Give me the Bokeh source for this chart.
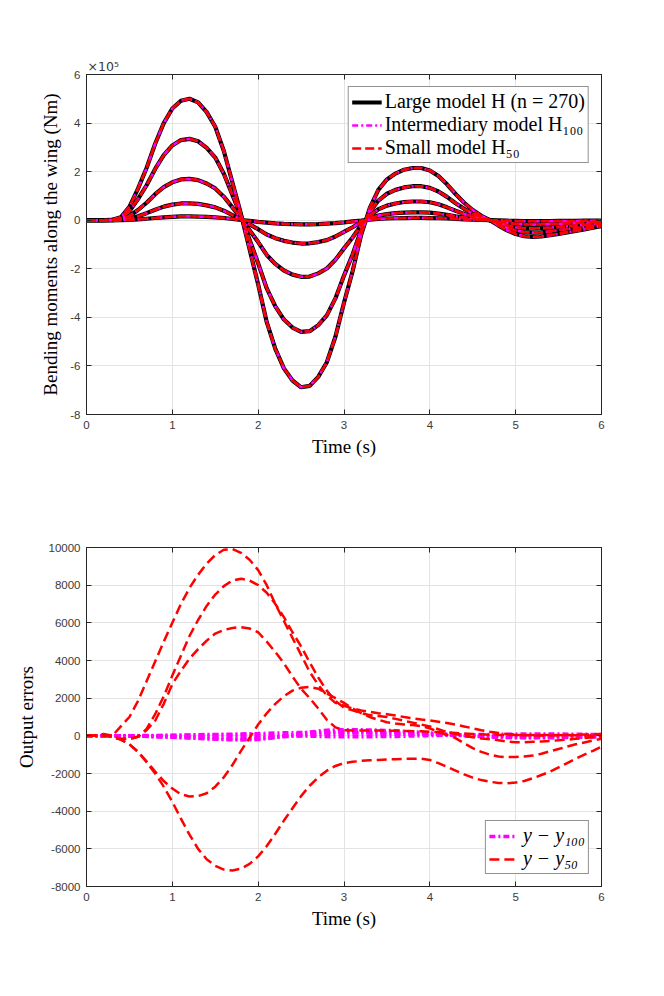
import numpy as np
from bokeh.plotting import figure
from bokeh.models import Legend, LegendItem, LinearAxis, FixedTicker, Range1d
from bokeh.layouts import column
from bokeh.embed import file_html
from bokeh.resources import INLINE

# ---------------- data ----------------
t = np.round(np.arange(61) * 0.1, 1).tolist()

# bending moments (units of 1e5 Nm), five outputs along the wing
moment_1 = [0, 0, 0, 0.02, 0.12, 0.55, 1.3, 2.15, 3.15, 4.0,
            4.6, 4.92, 5.0, 4.85, 4.45, 3.85, 2.85, 1.55, 0.25, -1.2,
            -2.65, -4.2, -5.3, -6.1, -6.6, -6.88, -6.82, -6.45, -5.85, -4.8,
            -3.4, -2.1, -0.6, 0.5, 1.25, 1.68, 1.92, 2.08, 2.15, 2.15,
            2.05, 1.82, 1.48, 1.08, 0.72, 0.42, 0.18, 0.0, -0.22, -0.42,
            -0.57, -0.66, -0.69, -0.67, -0.62, -0.56, -0.5, -0.44, -0.38, -0.31, -0.25]
moment_2 = [0, 0, 0, 0.01, 0.08, 0.37, 0.87, 1.44, 2.11, 2.68,
            3.08, 3.3, 3.35, 3.25, 2.98, 2.58, 1.91, 1.04, 0.17, -0.8,
            -1.78, -2.81, -3.55, -4.09, -4.42, -4.6, -4.57, -4.32, -3.92, -3.22,
            -2.28, -1.41, -0.4, 0.33, 0.81, 1.09, 1.25, 1.35, 1.4, 1.4,
            1.33, 1.18, 0.96, 0.7, 0.47, 0.27, 0.12, 0.0, -0.16, -0.31,
            -0.42, -0.49, -0.51, -0.5, -0.46, -0.41, -0.37, -0.33, -0.28, -0.23, -0.19]
moment_3 = [0, 0, 0, 0.0, 0.03, 0.17, 0.42, 0.72, 1.07, 1.36,
            1.56, 1.68, 1.7, 1.65, 1.51, 1.31, 0.97, 0.53, 0.08, -0.41,
            -0.9, -1.43, -1.8, -2.07, -2.24, -2.33, -2.32, -2.19, -1.99, -1.63,
            -1.16, -0.71, -0.2, 0.18, 0.45, 0.6, 0.69, 0.75, 0.77, 0.77,
            0.74, 0.66, 0.53, 0.39, 0.26, 0.15, 0.06, 0.0, -0.11, -0.21,
            -0.29, -0.33, -0.34, -0.33, -0.31, -0.28, -0.25, -0.22, -0.19, -0.16, -0.12]
moment_4 = [0, 0, 0, 0.0, 0.01, 0.06, 0.16, 0.29, 0.43, 0.56,
            0.64, 0.69, 0.69, 0.67, 0.61, 0.53, 0.39, 0.21, 0.03, -0.17,
            -0.37, -0.59, -0.74, -0.85, -0.92, -0.96, -0.95, -0.9, -0.82, -0.67,
            -0.48, -0.29, -0.08, 0.08, 0.19, 0.25, 0.29, 0.31, 0.32, 0.32,
            0.31, 0.27, 0.22, 0.16, 0.11, 0.06, 0.03, 0.0, -0.06, -0.11,
            -0.15, -0.17, -0.18, -0.17, -0.16, -0.15, -0.13, -0.11, -0.1, -0.08, -0.06]
moment_5 = [0, 0, 0, 0, 0, 0.01, 0.03, 0.06, 0.09, 0.12,
            0.14, 0.16, 0.16, 0.15, 0.14, 0.12, 0.09, 0.05, 0.01, -0.03,
            -0.07, -0.1, -0.13, -0.15, -0.16, -0.17, -0.17, -0.16, -0.14, -0.12,
            -0.09, -0.05, -0.02, 0.02, 0.05, 0.07, 0.08, 0.09, 0.1, 0.1,
            0.09, 0.08, 0.07, 0.05, 0.03, 0.02, 0.01, 0, -0.01, -0.02,
            -0.03, -0.04, -0.04, -0.04, -0.04, -0.03, -0.03, -0.03, -0.02, -0.02, -0.02]
moments = [moment_1, moment_2, moment_3, moment_4, moment_5]

# output errors y - y50 (thousands)
err50_1 = [0, 0, 0.1, 0.0, 0.5, 1.0, 1.85, 2.9, 3.95, 5.0,
           6.0, 7.0, 7.85, 8.55, 9.15, 9.6, 9.88, 9.92, 9.72, 9.35,
           8.8, 8.0, 7.0, 6.1, 5.2, 4.3, 3.4, 2.7, 2.15, 1.75,
           1.6, 1.45, 1.35, 1.28, 1.2, 1.15, 1.08, 1.0, 0.93, 0.87,
           0.82, 0.75, 0.68, 0.6, 0.5, 0.4, 0.3, 0.22, 0.15, 0.1,
           0.06, 0.03, 0.02, 0.02, 0.02, 0.03, 0.04, 0.05, 0.07, 0.08, 0.1]
err50_2 = [0, 0, 0.02, -0.05, -0.15, -0.15, -0.05, 0.37, 1.15, 2.1,
           3.2, 4.25, 5.3, 6.15, 6.9, 7.5, 7.95, 8.25, 8.34, 8.25,
           8.0, 7.6, 7.0, 6.3, 5.5, 4.75, 3.9, 3.1, 2.4, 1.85,
           1.5, 1.35, 1.2, 1.1, 1.05, 1.0, 0.9, 0.8, 0.7, 0.6,
           0.5, 0.35, 0.2, 0.1, 0.0, -0.08, -0.14, -0.18, -0.24, -0.3,
           -0.34, -0.34, -0.32, -0.3, -0.27, -0.24, -0.2, -0.16, -0.12, -0.07, -0.03]
err50_3 = [0, 0, 0.02, -0.05, -0.15, -0.18, -0.05, 0.3, 0.8, 1.7,
           2.75, 3.45, 4.1, 4.6, 5.05, 5.43, 5.62, 5.73, 5.77, 5.7,
           5.5, 5.0, 4.45, 3.85, 3.15, 2.5, 2.0, 1.45, 0.85, 0.45,
           0.3, 0.28, 0.28, 0.28, 0.28, 0.27, 0.27, 0.26, 0.25, 0.24,
           0.22, 0.2, 0.18, 0.15, 0.12, 0.1, 0.08, 0.06, 0.05, 0.05,
           0.05, 0.05, 0.05, 0.05, 0.04, 0.04, 0.03, 0.03, 0.02, 0.01, 0.0]
err50_4 = [0, 0, 0.05, -0.05, -0.2, -0.45, -0.85, -1.35, -1.9, -2.4,
           -2.8, -3.1, -3.22, -3.2, -3.05, -2.7, -2.2, -1.55, -0.8, -0.1,
           0.6, 1.2, 1.7, 2.1, 2.4, 2.55, 2.6, 2.5, 2.25, 2.0,
           1.75, 1.45, 1.2, 1.0, 0.85, 0.72, 0.65, 0.6, 0.57, 0.52,
           0.4, 0.2, 0.05, -0.12, -0.4, -0.65, -0.85, -1.0, -1.1, -1.13,
           -1.12, -1.1, -1.05, -0.95, -0.82, -0.7, -0.57, -0.45, -0.35, -0.25, -0.16]
err50_5 = [0, 0, 0.05, -0.05, -0.2, -0.45, -0.85, -1.4, -2.0, -2.7,
           -3.5, -4.4, -5.25, -6.0, -6.55, -6.9, -7.1, -7.15, -7.05, -6.8,
           -6.4, -5.85, -5.2, -4.5, -3.85, -3.2, -2.65, -2.2, -1.85, -1.6,
           -1.45, -1.38, -1.33, -1.3, -1.28, -1.26, -1.24, -1.22, -1.22, -1.22,
           -1.28, -1.45, -1.65, -1.85, -2.05, -2.22, -2.35, -2.44, -2.5, -2.52,
           -2.48, -2.4, -2.25, -2.08, -1.9, -1.68, -1.45, -1.22, -1.0, -0.8, -0.57]
err50 = [err50_1, err50_2, err50_3, err50_4, err50_5]

# output errors y - y100 (thousands), sampled every 0.2 s
t_m = np.round(np.arange(31) * 0.2, 1).tolist()
err100_1 = [0, 0, 0, -0.02, -0.05, -0.08, -0.12, -0.16, -0.2, -0.22, -0.2, -0.1, 0.05, 0.2, 0.3, 0.33,
            0.32, 0.3, 0.27, 0.22, 0.15, 0.08, 0.02, -0.03, -0.06, -0.08, -0.08, -0.06, -0.03, 0.0, 0.02]
err100_2 = [0, 0, 0, -0.01, -0.04, -0.07, -0.1, -0.14, -0.17, -0.18, -0.15, -0.06, 0.05, 0.15, 0.22, 0.25,
            0.24, 0.22, 0.2, 0.16, 0.11, 0.06, 0.01, -0.04, -0.08, -0.1, -0.1, -0.08, -0.05, -0.02, 0.0]
err100_3 = [0, 0, 0, 0.01, 0.02, 0.03, 0.05, 0.07, 0.08, 0.1, 0.12, 0.15, 0.17, 0.18, 0.18, 0.17,
            0.15, 0.13, 0.11, 0.09, 0.07, 0.05, 0.03, 0.01, -0.01, -0.03, -0.04, -0.04, -0.03, -0.02, -0.01]
err100_4 = [0, 0, 0, 0.0, -0.02, -0.04, -0.06, -0.08, -0.1, -0.11, -0.1, -0.07, -0.02, 0.04, 0.1, 0.14,
            0.16, 0.17, 0.17, 0.15, 0.12, 0.08, 0.04, 0.0, -0.04, -0.07, -0.09, -0.1, -0.09, -0.07, -0.05]
err100_5 = [0, 0, 0, 0.0, 0.01, 0.02, 0.03, 0.04, 0.05, 0.05, 0.04, 0.02, 0.0, -0.02, -0.04, -0.05,
            -0.05, -0.04, -0.03, -0.01, 0.01, 0.03, 0.05, 0.07, 0.08, 0.09, 0.1, 0.1, 0.09, 0.08, 0.07]
err100 = [err100_1, err100_2, err100_3, err100_4, err100_5]

x_ticks = [0, 1, 2, 3, 4, 5, 6]
x_tick_labels = ["0", "1", "2", "3", "4", "5", "6"]
top_y_ticks = [-8, -6, -4, -2, 0, 2, 4, 6]
top_y_tick_labels = ["-8", "-6", "-4", "-2", "0", "2", "4", "6"]
bot_y_ticks = [-8, -6, -4, -2, 0, 2, 4, 6, 8, 10]
bot_y_tick_labels = ["-8000", "-6000", "-4000", "-2000", "0", "2000", "4000", "6000", "8000", "10000"]
top_scale_label = "\u00d710\u2075"

legend_top = ["Large model H (n = 270)", "Intermediary model H\u2081\u2080\u2080", "Small model H\u2085\u2080"]
legend_bot = ["y \u2212 y\u2081\u2080\u2080", "y \u2212 y\u2085\u2080"]

SERIF = "Liberation Serif"
SANS = "Liberation Sans"
AX = "#262626"
TICKC = "#3a3a3a"


def make_fig(yr, yt, ylabels, top_border, bottom_border, frame_h, ylabel, ylabel_standoff):
    p = figure(frame_width=515, frame_height=frame_h,
               min_border_left=86, min_border_right=40,
               min_border_top=top_border, min_border_bottom=bottom_border,
               x_range=Range1d(0, 6), y_range=Range1d(*yr),
               output_backend="svg", toolbar_location=None,
               background_fill_color="white", border_fill_color="white")
    p.outline_line_color = AX
    p.outline_line_width = 1
    for ax, ticks, labels in ((p.xaxis[0], x_ticks, x_tick_labels), (p.yaxis[0], yt, ylabels)):
        ax.ticker = FixedTicker(ticks=ticks)
        ax.major_label_overrides = dict(zip(ticks, labels))
        ax.major_label_text_font = SANS
        ax.major_label_text_font_size = "11.5px"
        ax.major_label_text_color = TICKC
        ax.major_tick_in = 5
        ax.major_tick_out = 0
        ax.minor_tick_line_color = None
        ax.axis_line_color = AX
        ax.major_tick_line_color = AX
        ax.axis_label_text_font = SERIF
        ax.axis_label_text_font_style = "normal"
        ax.axis_label_text_font_size = "19px"
        ax.axis_label_text_color = "black"
        ax.major_label_standoff = 6
    p.xaxis.axis_label = "Time (s)"
    p.xaxis.axis_label_standoff = 4
    p.yaxis.axis_label = ylabel
    p.yaxis.axis_label_standoff = ylabel_standoff
    for place, ticks in (("above", x_ticks), ("right", yt)):
        extra = LinearAxis(ticker=FixedTicker(ticks=ticks), major_label_text_font_size="1px",
                           major_label_text_color=None,
                           major_tick_in=5, major_tick_out=0, minor_tick_line_color=None,
                           axis_line_color=AX, major_tick_line_color=AX, major_label_standoff=0)
        p.add_layout(extra, place)
    p.xgrid.ticker = FixedTicker(ticks=x_ticks)
    p.ygrid.ticker = FixedTicker(ticks=yt)
    p.grid.grid_line_color = "#e3e3e3"
    p.grid.grid_line_width = 1
    return p


# ---------------- top figure ----------------
p1 = make_fig((-8, 6), top_y_ticks, top_y_tick_labels, 74, 50, 340,
              "Bending moments along the wing (Nm)", 6)
p1.title.text = top_scale_label
p1.title.align = "left"
p1.title.text_font = "DejaVu Sans"
p1.title.text_font_size = "12.5px"
p1.title.text_font_style = "normal"
p1.title.text_color = TICKC
p1.title.standoff = 1
p1.title.offset = 1

blk = [p1.line(t, m, line_color="black", line_width=4.2) for m in moments]
mag = [p1.line(t, m, line_color="#ff00ff", line_width=2.6, line_dash="6 3 2 3") for m in moments]
red = [p1.line(t, m, line_color="#ff0000", line_width=2.6, line_dash="9 4") for m in moments]
leg1 = Legend(items=[LegendItem(label=legend_top[0], renderers=[blk[0]]),
                     LegendItem(label=legend_top[1], renderers=[mag[0]]),
                     LegendItem(label=legend_top[2], renderers=[red[0]])],
              location="top_right", margin=12, padding=3, spacing=0,
              label_height=22, glyph_height=22, glyph_width=30, label_standoff=3,
              label_text_font=SERIF, label_text_font_size="20px", label_text_color="black",
              border_line_color=AX, border_line_width=1, background_fill_color="white",
              background_fill_alpha=1.0)
p1.add_layout(leg1)

# ---------------- bottom figure ----------------
p2 = make_fig((-8, 10), bot_y_ticks, bot_y_tick_labels, 83, 50, 339, "Output errors", 9)
mag2 = [p2.line(t_m, e, line_color="#ff00ff", line_width=3.5, line_dash="6 3 2 3") for e in err100]
red2 = [p2.line(t, e, line_color="#ff0000", line_width=2.5, line_dash="10 5") for e in err50]
leg2 = Legend(items=[LegendItem(label=legend_bot[0], renderers=[mag2[0]]),
                     LegendItem(label=legend_bot[1], renderers=[red2[0]])],
              location="bottom_right", margin=12, padding=3, spacing=0,
              label_height=22, glyph_height=22, glyph_width=28, label_standoff=6,
              label_text_font=SERIF, label_text_font_size="20px", label_text_color="black",
              label_text_font_style="italic",
              border_line_color=AX, border_line_width=1, background_fill_color="white",
              background_fill_alpha=1.0)
p2.add_layout(leg2)

layout = column(p1, p2)
open("out.html", "w").write(file_html(layout, INLINE))
